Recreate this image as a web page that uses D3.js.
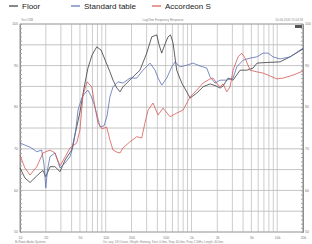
<!DOCTYPE html>
<html>
<head>
<meta charset="utf-8">
<script src="https://cdn.jsdelivr.net/npm/d3@7"></script>
<style>
  body { margin: 0; background: #fff; }
  svg { display: block; font-family: "Liberation Sans", Arial, sans-serif; }
</style>
</head>
<body>
<div id="chart"></div>
<script>
// frequency (Hz) / level (dB) pairs
const floorData = [
  [10, 65.4], [11.4, 63.0], [13.1, 61.9], [15.7, 63.5], [17.1, 64.2], [18.5, 64.8], [20, 63.3],
  [22.4, 65.7], [25.6, 65.7], [29.3, 64.5], [33.5, 67.3], [40, 69.7], [45, 74.5], [50, 78.8],
  [55.8, 84.6], [62, 89.4], [69.1, 92.5], [78.5, 94.5], [88.2, 93.75], [102.7, 90.4], [112, 88.5],
  [121.6, 86.5], [135, 84.6], [146.8, 83.7], [159, 84.9], [175.8, 85.8], [208, 87.3], [251, 88.9],
  [300.7, 93.0], [344, 96.9], [394, 97.4], [419, 95.0], [450, 93.0], [492, 95.2], [533, 96.9],
  [570, 97.4], [610, 95.4], [673, 88.9], [771, 85.8], [881, 83.7], [964, 82.2], [1154, 83.4],
  [1365, 84.9], [1648, 85.6], [1937, 85.1], [2158, 84.6], [2338, 85.1], [2673, 87.0], [3057, 86.5],
  [3690, 88.9], [4416, 88.9], [5230, 89.4], [5820, 90.6], [6845, 90.7], [10800, 90.9],
  [14130, 92.1], [20000, 94.0]
];
const tableData = [
  [10, 71.4], [11.4, 70.9], [13.1, 70.4], [15.7, 69.3], [17.9, 69.7], [19.1, 66.1], [20, 60.6],
  [20.9, 64.9], [22.4, 68.1], [25.6, 69.0], [29.3, 65.4], [33.5, 66.6], [38.3, 68.1], [41.5, 70.5],
  [45, 75.0], [47.5, 79.3], [52.5, 82.2], [57.3, 83.4], [62, 84.1], [67.3, 82.7], [73, 80.8],
  [79.1, 78.1], [85.8, 75.3], [95.5, 75.5], [103.5, 77.9], [112, 82.5], [121.6, 84.9], [139, 86.1],
  [159, 85.8], [192, 87.0], [230, 87.0], [272, 88.9], [328.6, 90.6], [376, 88.9], [408, 87.0],
  [450, 85.3], [515, 87.0], [589, 89.7], [644, 90.9], [736, 89.7], [881, 90.1], [1045, 90.6],
  [1260, 89.9], [1509, 89.4], [1648, 87.3], [1886, 85.8], [2158, 86.5], [2583, 86.5], [3057, 87.0],
  [3378, 89.7], [4000, 91.3], [4826, 91.8], [5780, 92.1], [6845, 93.0], [7830, 93.0], [8955, 92.1],
  [10800, 91.6], [14130, 92.1], [20000, 94.2]
];
const accordeonData = [
  [10, 68.5], [11.4, 65.4], [13.1, 63.7], [15.7, 65.7], [18.5, 69.0], [22.4, 69.7], [25.6, 69.0],
  [29.3, 65.9], [33.5, 68.0], [38.3, 70.2], [45.9, 71.4], [50, 74.5], [54.3, 82.9], [60.5, 86.1],
  [68.7, 84.9], [75, 80.0], [81.3, 76.2], [90.6, 74.8], [102.7, 75.2], [112, 72.1], [121.6, 69.7],
  [135, 69.2], [146.8, 69.0], [159, 70.2], [192, 71.7], [230, 72.9], [263, 72.6], [288, 76.4],
  [312, 79.3], [356, 81.0], [408, 78.1], [466, 79.8], [563, 77.7], [673, 78.6], [798, 79.3],
  [964, 82.5], [1154, 84.1], [1365, 85.8], [1648, 86.8], [1787, 87.0], [1991, 85.6], [2158, 84.9],
  [2338, 85.6], [2583, 83.7], [2820, 84.9], [3057, 88.9], [3496, 92.1], [3863, 93.0], [4220, 91.8],
  [4826, 88.9], [5780, 88.5], [6845, 88.2], [8260, 87.5], [9890, 86.8], [11720, 87.0],
  [15320, 87.7], [20000, 88.7]
];

const seriesNames = ["Floor", "Standard table", "Accordeon S"];
const seriesColors = ["#3a3a3a", "#5a70b2", "#d65a55"];
const xTicks = [10, 20, 50, 100, 200, 500, 1000, 2000, 5000, 10000, 20000];
const xTickLabels = ["10", "20", "50", "100", "200", "500", "1k", "2k", "5k", "10k", "20k"];
const yLabelTicks = [50, 60, 70, 80, 90, 100];

const width = 312, height = 244;
const margin = { top: 24, right: 9, bottom: 12, left: 20 };

const svg = d3.select("#chart").append("svg")
  .attr("width", width)
  .attr("height", height);

const x = d3.scaleLog().domain([10, 20000]).range([margin.left, width - margin.right]);
const y = d3.scaleLinear().domain([50, 100]).range([height - margin.bottom, margin.top]);

// grid: every 1-9 per decade
const gridX = [];
for (let dec = 10; dec <= 10000; dec *= 10) {
  for (let m = 1; m <= 9; m++) {
    const f = dec * m;
    if (f <= 20000) gridX.push(f);
  }
}
gridX.push(20000);

svg.append("g").selectAll("line").data(gridX).enter().append("line")
  .attr("x1", d => x(d)).attr("x2", d => x(d))
  .attr("y1", y(100)).attr("y2", y(50))
  .attr("stroke", "#cdcdcd").attr("stroke-width", 1);

svg.append("g").selectAll("line").data(d3.range(50, 101, 5)).enter().append("line")
  .attr("x1", x(10)).attr("x2", x(20000))
  .attr("y1", d => y(d)).attr("y2", d => y(d))
  .attr("stroke", "#c4c4c4").attr("stroke-width", 1);

// frame
svg.append("rect")
  .attr("x", x(10)).attr("y", y(100))
  .attr("width", x(20000) - x(10)).attr("height", y(50) - y(100))
  .attr("fill", "none").attr("stroke", "#a0a0a0").attr("stroke-width", 0.8);

// left / right axes with minor ticks
const leftAxis = d3.axisRight(y).tickValues(d3.range(50, 101, 1)).tickSize(2).tickFormat("");
svg.append("g").attr("transform", `translate(${x(10)},0)`).call(leftAxis)
  .call(g => g.select(".domain").attr("stroke", "#8c8c8c"))
  .call(g => g.selectAll(".tick line").attr("stroke", "#a5a5a5"));
const rightAxis = d3.axisLeft(y).tickValues(d3.range(50, 101, 1)).tickSize(2).tickFormat("");
svg.append("g").attr("transform", `translate(${x(20000)},0)`).call(rightAxis)
  .call(g => g.select(".domain").attr("stroke", "#8c8c8c"))
  .call(g => g.selectAll(".tick line").attr("stroke", "#a5a5a5"));

svg.append("g").selectAll("text").data(yLabelTicks).enter().append("text")
  .attr("x", x(10) - 2).attr("y", d => y(d) + 1.2)
  .attr("text-anchor", "end").attr("font-size", 3.5).attr("fill", "#777")
  .text(d => d);
svg.append("g").selectAll("text").data(yLabelTicks).enter().append("text")
  .attr("x", x(20000) + 2).attr("y", d => y(d) + 1.2)
  .attr("text-anchor", "start").attr("font-size", 3.5).attr("fill", "#777")
  .text(d => d);

// bottom tick labels
const xAxis = d3.axisBottom(x).tickValues(xTicks).tickSize(0)
  .tickFormat((d, i) => xTickLabels[i]);
svg.append("g").attr("transform", `translate(0,${y(50) + 1})`).call(xAxis)
  .call(g => g.select(".domain").remove())
  .call(g => g.selectAll("text").attr("font-size", 3.5).attr("fill", "#777").attr("dy", "0.75em"));

// curves
const line = d3.line().x(d => x(d[0])).y(d => y(d[1]));
[floorData, tableData, accordeonData].forEach((data, i) => {
  svg.append("path").datum(data)
    .attr("d", line)
    .attr("fill", "none")
    .attr("stroke", seriesColors[i])
    .attr("stroke-width", 0.8)
    .attr("stroke-linejoin", "round");
});

// small header / footer texts
svg.append("text").attr("x", 21).attr("y", 21).attr("font-size", 3).attr("fill", "#888").text("Test 2SB");
svg.append("text").attr("x", 163).attr("y", 21).attr("font-size", 3).attr("text-anchor", "middle")
  .attr("fill", "#888").text("LogOhm Frequency Response");
svg.append("text").attr("x", 303).attr("y", 21).attr("font-size", 3).attr("text-anchor", "end")
  .attr("fill", "#888").text("10-06-2020 15:04:33");
svg.append("rect").attr("x", 295).attr("y", 25).attr("width", 7).attr("height", 3).attr("fill", "#555");
svg.append("text").attr("x", 15).attr("y", 242.5).attr("font-size", 2.8).attr("fill", "#888")
  .text("Bi-Power Audio Systems");
svg.append("text").attr("x", 163).attr("y", 242.5).attr("font-size", 2.8).attr("text-anchor", "middle")
  .attr("fill", "#888")
  .text("Oct. avg: 1/6 Octave, Weight: Hanning, Start: 0.0ms, Stop: 40.0ms, Freq: 2.5kHz, Length: 40.0ms");

// legend
const legendX = [9, 71, 152];
const legend = svg.append("g");
seriesNames.forEach((name, i) => {
  legend.append("line")
    .attr("x1", legendX[i]).attr("x2", legendX[i] + 9)
    .attr("y1", 6).attr("y2", 6)
    .attr("stroke", seriesColors[i]).attr("stroke-width", 1.2);
  legend.append("text")
    .attr("x", legendX[i] + 13).attr("y", 8.7)
    .attr("font-size", 8).attr("fill", "#222")
    .text(name);
});
</script>
</body>
</html>
